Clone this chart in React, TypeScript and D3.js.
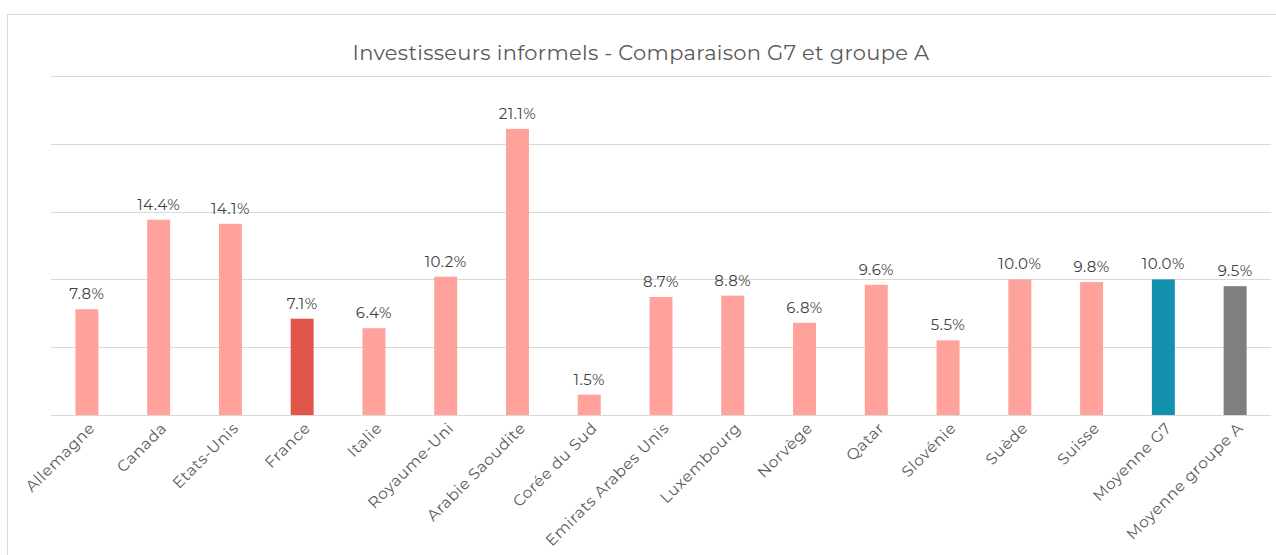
import React, { useEffect, useRef } from 'react'
import * as d3 from 'd3'

const countries = [
  'Allemagne', 'Canada', 'Etats-Unis', 'France', 'Italie', 'Royaume-Uni',
  'Arabie Saoudite', 'Corée du Sud', 'Emirats Arabes Unis', 'Luxembourg',
  'Norvège', 'Qatar', 'Slovénie', 'Suède', 'Suisse', 'Moyenne G7', 'Moyenne groupe A',
]
const values = [7.8, 14.4, 14.1, 7.1, 6.4, 10.2, 21.1, 1.5, 8.7, 8.8, 6.8, 9.6, 5.5, 10.0, 9.8, 10.0, 9.5]
const yTicks = [0, 5, 10, 15, 20, 25]

const barColor = (name: string) => {
  if (name === 'France') return '#E0564B'
  if (name === 'Moyenne G7') return '#1591B0'
  if (name === 'Moyenne groupe A') return '#7F7F7F'
  return '#FFA29B'
}

const App = () => {
  const ref = useRef<SVGSVGElement>(null)

  useEffect(() => {
    draw()
  })

  const draw = () => {
    const svg = d3.select(ref.current)
    svg.selectAll('*').remove()
    const font = "Montserrat, 'Open Sans', sans-serif"

    // chart frame
    svg.append('rect')
      .attr('x', 7.5).attr('y', 14.5)
      .attr('width', 1300).attr('height', 600)
      .attr('fill', '#fff').attr('stroke', '#D9D9D9')

    const x = d3.scaleBand().domain(countries).range([51, 1271]).paddingInner(0.68).paddingOuter(0.34)
    const y = d3.scaleLinear().domain([0, 25]).range([415, 76])

    svg.append('text')
      .attr('x', 641).attr('y', 60)
      .attr('text-anchor', 'middle')
      .attr('font-family', font).attr('font-size', 21)
      .attr('letter-spacing', 0.3)
      .attr('fill', '#595959')
      .text('Investisseurs informels - Comparaison G7 et groupe A')

    svg.append('g')
      .selectAll('line')
      .data(yTicks)
      .enter()
      .append('line')
      .attr('x1', 51).attr('x2', 1271)
      .attr('y1', (d) => Math.round(y(d)) + 0.5)
      .attr('y2', (d) => Math.round(y(d)) + 0.5)
      .attr('stroke', '#D9D9D9')

    const idx = countries.map((c, i) => i)

    svg.append('g')
      .selectAll('rect')
      .data(idx)
      .enter()
      .append('rect')
      .attr('x', (i) => x(countries[i]) as number)
      .attr('width', x.bandwidth())
      .attr('y', (i) => y(values[i]))
      .attr('height', (i) => y(0) - y(values[i]))
      .attr('fill', (i) => barColor(countries[i]))

    svg.append('g')
      .selectAll('text')
      .data(idx)
      .enter()
      .append('text')
      .attr('x', (i) => (x(countries[i]) as number) + x.bandwidth() / 2)
      .attr('y', (i) => y(values[i]) - 10)
      .attr('text-anchor', 'middle')
      .attr('font-family', font).attr('font-size', 15)
      .attr('letter-spacing', 0.5)
      .attr('fill', '#404040')
      .text((i) => values[i].toFixed(1) + '%')

    svg.append('g')
      .selectAll('text')
      .data(countries)
      .enter()
      .append('text')
      .attr('transform', (d) => `translate(${(x(d) as number) + x.bandwidth() / 2 + 9},${429}) rotate(-45)`)
      .attr('text-anchor', 'end')
      .attr('font-family', font).attr('font-size', 15.5)
      .attr('letter-spacing', 0.6)
      .attr('fill', '#595959')
      .text((d) => d)
  }

  return (
    <svg ref={ref} width={1276} height={555} style={{ position: 'absolute', left: 0, top: 0 }} />
  )
}

export default App
